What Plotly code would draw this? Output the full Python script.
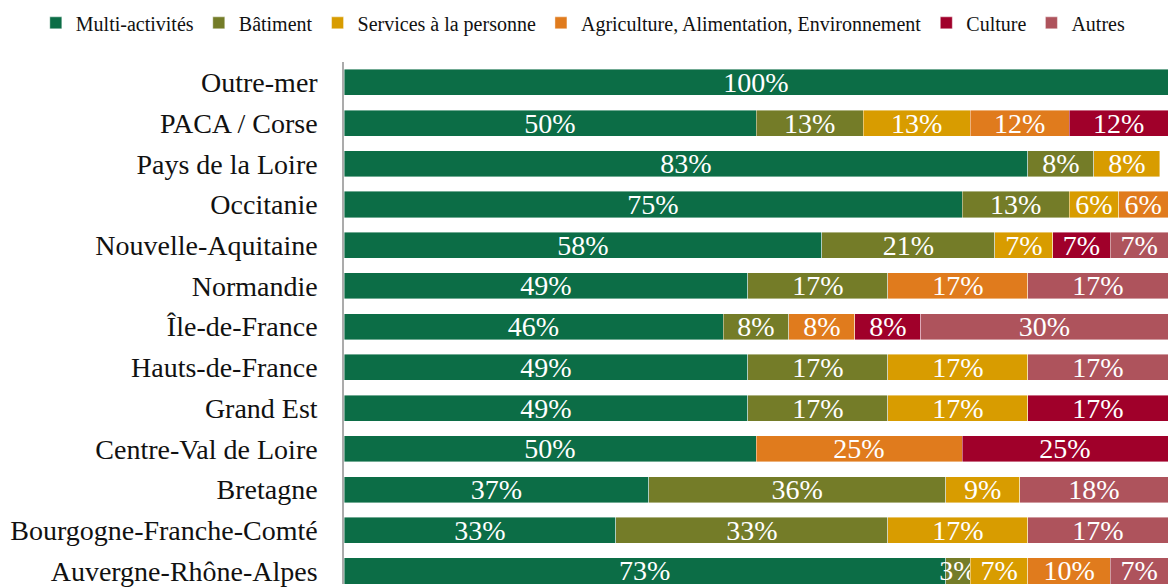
import plotly.graph_objects as go

# Regions, listed bottom to top as they appear on the y axis
regions = [
    "Auvergne-Rhône-Alpes",
    "Bourgogne-Franche-Comté",
    "Bretagne",
    "Centre-Val de Loire",
    "Grand Est",
    "Hauts-de-France",
    "Île-de-France",
    "Normandie",
    "Nouvelle-Aquitaine",
    "Occitanie",
    "Pays de la Loire",
    "PACA / Corse",
    "Outre-mer",
]

# Share of each sector per region (percent); None = no segment
multi_activites = [73, 33, 37, 50, 49, 49, 46, 49, 58, 75, 83, 50, 100]
batiment        = [3, 33, 36, None, 17, 17, 8, 17, 21, 13, 8, 13, None]
services        = [7, 17, 9, None, 17, 17, None, None, 7, 6, 8, 13, None]
agriculture     = [10, None, None, 25, None, None, 8, 17, None, 6, None, 12, None]
culture         = [None, None, None, 25, 17, None, 8, None, 7, None, None, 12, None]
autres          = [7, 17, 18, None, None, 17, 30, 17, 7, None, None, None, None]

series = [
    ("Multi-activités", multi_activites, "#0C6D46"),
    ("Bâtiment", batiment, "#747C28"),
    ("Services à la personne", services, "#D89C00"),
    ("Agriculture, Alimentation, Environnement", agriculture, "#E07B1D"),
    ("Culture", culture, "#A0002A"),
    ("Autres", autres, "#AE535C"),
]

FONT = "Liberation Serif"

fig = go.Figure()
for name, vals, color in series:
    fig.add_trace(go.Bar(
        name=name,
        orientation="h",
        y=regions,
        x=[v / 100 if v is not None else None for v in vals],
        text=[f"{v}%" if v is not None else "" for v in vals],
        textposition="inside",
        insidetextanchor="middle",
        textangle=0,
        constraintext="none",
        textfont=dict(family=FONT, size=28, color="white"),
        marker=dict(color=color, line=dict(color="rgba(255,255,255,0.6)", width=0.7)),
        hoverinfo="skip",
    ))

fig.update_layout(
    barmode="stack",
    bargap=0.36,
    width=1168,
    height=587,
    margin=dict(l=344, r=0, t=62, b=0),
    paper_bgcolor="white",
    plot_bgcolor="white",
    font=dict(family=FONT, color="#111111"),
    showlegend=True,
    legend=dict(
        orientation="h",
        x=-0.374, xanchor="left",
        y=1.075, yanchor="middle",
        font=dict(family=FONT, size=20, color="#111111"),
        itemwidth=30,
        tracegroupgap=0,
        traceorder="normal",
    ),
    xaxis=dict(range=[0, 1], visible=False, fixedrange=True),
    yaxis=dict(
        type="category",
        categoryorder="array",
        categoryarray=regions,
        range=[-0.32, 12.5],
        showline=True,
        linecolor="#ABABAB",
        linewidth=1.5,
        showgrid=False,
        zeroline=False,
        ticks="",
        ticklabelstandoff=19,
        tickfont=dict(family=FONT, size=28, color="#111111"),
    ),
)

fig.write_html("out.html")
